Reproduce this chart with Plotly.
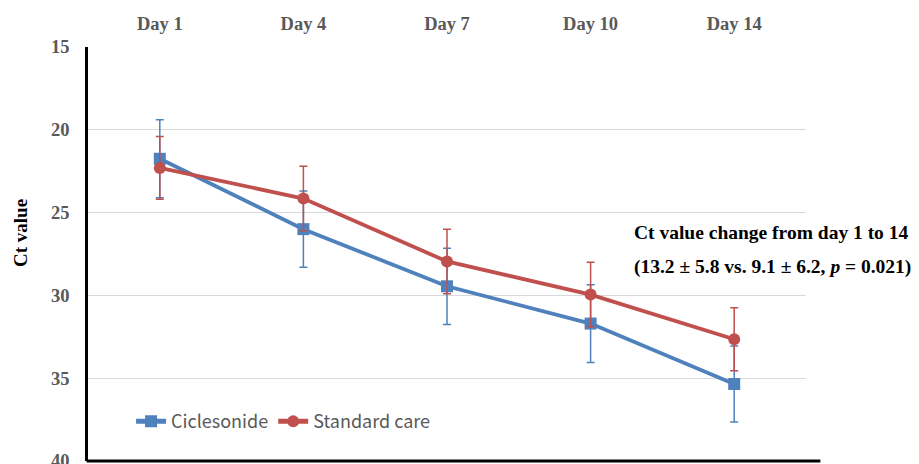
import plotly.graph_objects as go

days = ["Day 1", "Day 4", "Day 7", "Day 10", "Day 14"]
cic_vals = [21.75, 26.0, 29.45, 31.7, 35.35]
cic_err = [2.35, 2.3, 2.3, 2.35, 2.3]
std_vals = [22.3, 24.15, 27.95, 29.95, 32.65]
std_err = [1.9, 1.95, 1.95, 1.95, 1.9]
y_ticks = [15, 20, 25, 30, 35, 40]

BLUE = "#4F81BD"
RED = "#C0504D"
SERIF = "Liberation Serif, Times New Roman, serif"

fig = go.Figure()
fig.add_trace(go.Scatter(
    x=days, y=cic_vals, name="Ciclesonide", mode="lines+markers",
    line=dict(color=BLUE, width=3.8),
    marker=dict(symbol="square", size=12, color=BLUE),
    error_y=dict(type="data", array=cic_err, visible=True, color=BLUE, thickness=1.5, width=4),
))
fig.add_trace(go.Scatter(
    x=days, y=std_vals, name="Standard care", mode="lines+markers",
    line=dict(color=RED, width=3.8),
    marker=dict(symbol="circle", size=12, color=RED),
    error_y=dict(type="data", array=std_err, visible=True, color=RED, thickness=1.5, width=4),
))

fig.update_layout(
    width=919, height=464,
    margin=dict(l=88, r=113, t=47, b=3, autoexpand=False),
    paper_bgcolor="white", plot_bgcolor="white",
    showlegend=True,
    legend=dict(orientation="h", x=0.06, y=0.095, xanchor="left", yanchor="middle",
                bgcolor="rgba(0,0,0,0)", itemsizing="constant", tracegroupgap=0,
                font=dict(family="Noto Sans CJK KR, Noto Sans, sans-serif", size=18, color="#595959")),
    xaxis=dict(side="top", range=[-0.5, 4.5], showgrid=False, showline=False, zeroline=False,
               automargin=False, ticks="", ticklabelstandoff=12,
               tickfont=dict(family=SERIF, size=18.5, color="#595959", weight="bold")),
    yaxis=dict(range=[40, 15], tickvals=y_ticks, showgrid=True, gridcolor="#D9D9D9", gridwidth=1.2,
               zeroline=False, showline=True, linecolor="black", linewidth=2.5, automargin=False,
               ticks="", ticklabelstandoff=12, ticklabeloverflow="allow",
               tickfont=dict(family=SERIF, size=18.5, color="#595959", weight="bold")),
)

fig.add_shape(type="line", xref="paper", yref="paper", x0=-0.002, x1=1.02, y0=0, y1=0,
              line=dict(color="black", width=3))

fig.add_annotation(xref="paper", yref="paper", x=(20 - 88) / 718, y=(461 - 233) / 414,
                   xanchor="center", yanchor="middle", textangle=-90, showarrow=False,
                   text="<b>Ct value</b>", font=dict(family=SERIF, size=19, color="black"))
fig.add_annotation(xref="paper", yref="paper", x=0.7577, y=0.553, xanchor="left", yanchor="middle",
                   showarrow=False, text="<b>Ct value change from day 1 to 14</b>",
                   font=dict(family=SERIF, size=19.5, color="black"))
fig.add_annotation(xref="paper", yref="paper", x=0.7577, y=0.4686, xanchor="left", yanchor="middle",
                   showarrow=False, text="<b>(13.2 ± 5.8 vs. 9.1 ± 6.2, <i>p</i> = 0.021)</b>",
                   font=dict(family=SERIF, size=19.5, color="black"))

fig.write_html("out.html", config={"displayModeBar": False},
               post_script="document.body.style.margin='0';document.body.style.padding='0';")
